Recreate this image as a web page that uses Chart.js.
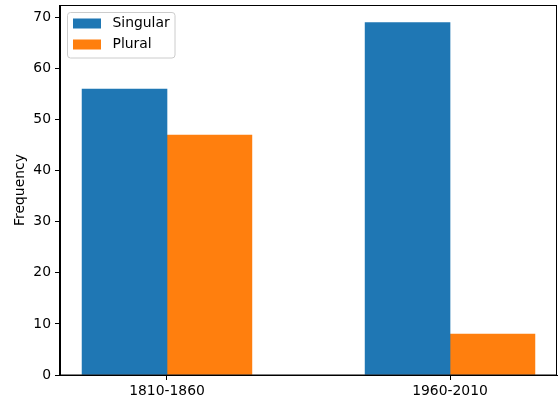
<!DOCTYPE html>
<html>
<head>
<meta charset="utf-8">
<script src="https://cdn.jsdelivr.net/npm/chart.js@4"></script>
<style>
html,body{margin:0;padding:0;background:#fff;}
#wrap{width:558px;height:401px;}
</style>
</head>
<body>
<div id="wrap"><canvas id="c" width="558" height="401"></canvas></div>
<script>
const categories = ['1810-1860', '1960-2010'];
const seriesNames = ['Singular', 'Plural'];
const singular = [56, 69];
const plural = [47, 8];
const yTicks = [0, 10, 20, 30, 40, 50, 60, 70];
const yLabel = 'Frequency';

const colors = ['#1f77b4', '#ff7f0e'];
const barWidth = 0.3;
const FONT = '"DejaVu Sans", sans-serif';
const FS = 13.9;

function toPoints(vals, k) {
  return vals.map((v, i) => ({ x: i + (k - 0.5) * barWidth, y: v }));
}

const frameAndLegend = {
  id: 'frameAndLegend',
  afterDraw(chart) {
    const ctx = chart.ctx;
    const a = chart.chartArea;
    ctx.save();
    ctx.strokeStyle = '#000';
    ctx.lineWidth = 1;
    ctx.strokeRect(Math.round(a.left) - 0.5, Math.round(a.top) + 0.5, Math.round(a.right - a.left), Math.round(a.bottom - a.top) - 0.5);
    // legend
    const x0 = a.left + 7.5, y0 = a.top + 7.5, w = 107.5, h = 45.5, r = 3;
    ctx.beginPath();
    ctx.moveTo(x0 + r, y0);
    ctx.lineTo(x0 + w - r, y0);
    ctx.arcTo(x0 + w, y0, x0 + w, y0 + r, r);
    ctx.lineTo(x0 + w, y0 + h - r);
    ctx.arcTo(x0 + w, y0 + h, x0 + w - r, y0 + h, r);
    ctx.lineTo(x0 + r, y0 + h);
    ctx.arcTo(x0, y0 + h, x0, y0 + h - r, r);
    ctx.lineTo(x0, y0 + r);
    ctx.arcTo(x0, y0, x0 + r, y0, r);
    ctx.closePath();
    ctx.fillStyle = 'rgba(255,255,255,0.8)';
    ctx.fill();
    ctx.strokeStyle = '#cccccc';
    ctx.lineWidth = 1;
    ctx.stroke();
    ctx.font = FS + 'px ' + FONT;
    ctx.textBaseline = 'middle';
    ctx.textAlign = 'left';
    seriesNames.forEach((name, i) => {
      const cy = y0 + 11 + i * 21;
      ctx.fillStyle = colors[i];
      ctx.fillRect(x0 + 5.5, cy - 5, 28, 10);
      ctx.fillStyle = '#000';
      ctx.fillText(name, x0 + 45, cy);
    });
    ctx.restore();
  }
};

new Chart(document.getElementById('c'), {
  type: 'bar',
  data: {
    datasets: [
      { label: seriesNames[0], data: toPoints(singular, 0), backgroundColor: colors[0], borderWidth: 0 },
      { label: seriesNames[1], data: toPoints(plural, 1), backgroundColor: colors[1], borderWidth: 0 }
    ]
  },
  options: {
    responsive: false,
    devicePixelRatio: 1,
    animation: false,
    categoryPercentage: 1,
    barPercentage: 1,
    layout: { padding: { top: 5, right: 1, left: 0, bottom: 0 } },
    plugins: { legend: { display: false }, tooltip: { enabled: false } },
    scales: {
      x: {
        type: 'linear',
        stacked: true,
        offset: false,
        min: -barWidth - 0.078,
        max: categories.length - 1 + barWidth + 0.078,
        afterBuildTicks(scale) { scale.ticks = categories.map((c, i) => ({ value: i })); },
        afterFit(scale) { scale.height = 26; scale.paddingLeft = 0; scale.paddingRight = 0; },
        grid: { drawOnChartArea: false, drawTicks: true, tickLength: 5, color: '#000', offset: false },
        border: { display: true, color: '#000', width: 1 },
        ticks: {
          color: '#000',
          font: { family: FONT, size: FS },
          padding: 3,
          maxRotation: 0,
          autoSkip: false,
          callback: (v) => categories[v] !== undefined ? categories[v] : ''
        }
      },
      y: {
        stacked: false,
        min: 0,
        max: 72.45,
        afterBuildTicks(scale) { scale.ticks = yTicks.map(v => ({ value: v })); },
        afterFit(scale) { scale.width = 60; scale.paddingTop = 0; scale.paddingBottom = 0; },
        grid: { drawOnChartArea: false, drawTicks: true, tickLength: 5, color: '#000' },
        border: { display: true, color: '#000', width: 1 },
        title: { display: true, text: yLabel, color: '#000', font: { family: FONT, size: FS }, padding: { top: 11.7, bottom: 0 } },
        ticks: { color: '#000', font: { family: FONT, size: FS }, padding: 4 }
      }
    }
  },
  plugins: [frameAndLegend]
});
</script>
</body>
</html>
